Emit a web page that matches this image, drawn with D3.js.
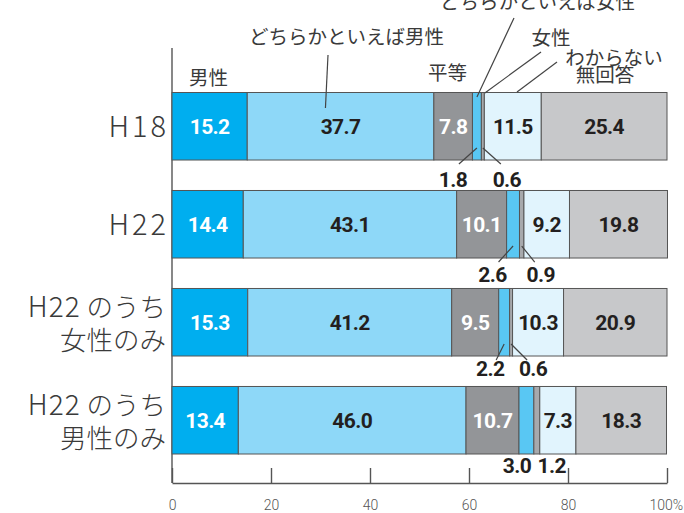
<!DOCTYPE html>
<html>
<head>
<meta charset="utf-8">
<script src="https://cdn.jsdelivr.net/npm/d3@7"></script>
<style>
  html, body { margin: 0; padding: 0; background: #fff; }
  svg { display: block; }
</style>
</head>
<body>
<svg id="chart" width="684" height="513"></svg>
<script>
// ---- data ----
const categories = ["H18", "H22", "H22女性", "H22男性"];
const categoryLines = [["H18"], ["H22"], ["H22 のうち", "女性のみ"], ["H22 のうち", "男性のみ"]];
const seriesNames = ["男性", "どちらかといえば男性", "平等", "どちらかといえば女性", "女性", "わからない", "無回答"];
const male         = [15.2, 14.4, 15.3, 13.4];
const ratherMale   = [37.7, 43.1, 41.2, 46.0];
const equal        = [7.8, 10.1, 9.5, 10.7];
const ratherFemale = [1.8, 2.6, 2.2, 3.0];
const female       = [0.6, 0.9, 0.6, 1.2];
const unknown      = [11.5, 9.2, 10.3, 7.3];
const noAnswer     = [25.4, 19.8, 20.9, 18.3];
const tickValues = [0, 20, 40, 60, 80, 100];
const tickLabels = ["0", "20", "40", "60", "80", "100%"];

// ---- styles ----
const colors = ["#00aeef", "#8ed8f8", "#939598", "#59c7f3", "#a7a9ac", "#e1f4fd", "#c7c8ca"];
const whiteText = [true, false, true, false, false, false, false];
const cjk = "'Noto Sans CJK JP', 'Noto Sans', sans-serif";
const numFont = "Roboto, 'Liberation Sans', sans-serif";

const allSeries = [male, ratherMale, equal, ratherFemale, female, unknown, noAnswer];
const table = categories.map((c, i) => {
  const row = { cat: c };
  seriesNames.forEach((s, j) => row[s] = allSeries[j][i]);
  return row;
});
const stacked = d3.stack().keys(seriesNames)(table);

const svg = d3.select("#chart");
const x = d3.scaleLinear().domain([0, 100]).range([172, 667]);
const y = d3.scaleBand().domain(categories).range([92.5, 454]).paddingInner(0.311).paddingOuter(0);
const bw = y.bandwidth();

// axis lines
const axisY = 483;
svg.append("line").attr("x1", x(0)).attr("x2", x(0)).attr("y1", 48).attr("y2", axisY)
  .attr("stroke", "#555").attr("stroke-width", 1.4);
const xAxis = d3.axisBottom(x).tickValues(tickValues).tickSize(0).tickFormat((d, i) => tickLabels[i]);
const ax = svg.append("g").attr("transform", `translate(0,${axisY})`).call(xAxis);
ax.select(".domain").attr("stroke", "#555").attr("stroke-width", 1.4);
ax.selectAll(".tick line").remove();
ax.selectAll(".tick").append("line").attr("y1", 0).attr("y2", -15).attr("stroke", "#555").attr("stroke-width", 1.4);
ax.selectAll(".tick text").attr("y", 27).attr("dy", 0)
  .attr("font-family", numFont).attr("font-weight", 300).attr("font-size", 14).attr("fill", "#555")
  .attr("text-anchor", (d) => d === 100 ? "start" : "middle")
  .attr("x", (d) => d === 100 ? -18 : 0);

// bars
const groups = svg.append("g").selectAll("g").data(stacked).join("g")
  .attr("fill", (d, i) => colors[i]);
groups.selectAll("rect").data(d => d).join("rect")
  .attr("x", d => x(d[0]))
  .attr("width", d => x(d[1]) - x(d[0]))
  .attr("y", d => y(d.data.cat))
  .attr("height", bw)
  .attr("stroke", "#555").attr("stroke-width", 1);

// inside labels
const insideSeries = [0, 1, 2, 5, 6];
insideSeries.forEach(si => {
  svg.append("g").selectAll("text").data(stacked[si]).join("text")
    .attr("x", d => x((d[0] + d[1]) / 2))
    .attr("y", d => y(d.data.cat) + bw / 2 + 7.5)
    .attr("text-anchor", "middle")
    .attr("font-family", numFont).attr("font-weight", 700).attr("font-size", 21)
    .attr("letter-spacing", -0.6)
    .attr("fill", whiteText[si] ? "#fff" : "#231f20")
    .text(d => d.data[seriesNames[si]].toFixed(1));
});

// outside small labels (どちらかといえば女性 / 女性)
const smallOffsets = [[-24, 24], [-20.5, 19], [-14, 22], [-9.5, 15]];
const smallBaseline = [27, 24, 20, 19];
const smallLeaders = [true, true, true, false];
[3, 4].forEach((si, k) => {
  stacked[si].forEach((d, i) => {
    const cx = x((d[0] + d[1]) / 2);
    const bottom = y(d.data.cat) + bw;
    const lx = cx + smallOffsets[i][k];
    svg.append("text")
      .attr("x", lx).attr("y", bottom + smallBaseline[i])
      .attr("text-anchor", "middle")
      .attr("font-family", numFont).attr("font-weight", 700).attr("font-size", 21)
      .attr("letter-spacing", -0.6)
      .attr("fill", "#231f20")
      .text(d.data[seriesNames[si]].toFixed(1));
    if (smallLeaders[i]) {
      const sign = k === 0 ? 1 : -1;
      svg.append("line")
        .attr("x1", cx).attr("y1", bottom - 12)
        .attr("x2", lx + sign * 6).attr("y2", bottom + 4)
        .attr("stroke", "#444").attr("stroke-width", 1.2);
    }
  });
});

// category labels
categoryLines.forEach((lines, i) => {
  const cy = y(categories[i]) + bw / 2;
  if (lines.length === 1) {
    svg.append("text")
      .attr("text-anchor", "end")
      .attr("font-family", cjk).attr("font-weight", 300).attr("font-size", 29)
      .attr("letter-spacing", 3)
      .attr("fill", "#3a3a3a")
      .attr("x", 169).attr("y", cy + 10.5).text(lines[0]);
  } else {
    lines.forEach((ln, j) => {
      const t = svg.append("text")
        .attr("text-anchor", "end")
        .attr("font-family", cjk).attr("font-weight", 300).attr("font-size", 26.5)
        .attr("fill", "#3a3a3a")
        .attr("x", 166).attr("y", cy + (j === 0 ? -5 : 28));
      const m = ln.match(/^([A-Za-z0-9]+)(.*)$/);
      if (m) {
        t.append("tspan").attr("font-size", 28).attr("letter-spacing", 1).text(m[1]);
        t.append("tspan").text(m[2]);
      } else {
        t.text(ln);
      }
    });
  }
});

// legend labels with leader lines (anchored to first bar)
const legend = [
  { name: seriesNames[0], tx: 208.5, ty: 85 },
  { name: seriesNames[1], tx: 346.5, ty: 44, line: [[328, 55], [31, 108]] },
  { name: seriesNames[2], tx: 447.5, ty: 80 },
  { name: seriesNames[3], tx: 537.5, ty: 9, line: [[514, 18], [61.6, 97]] },
  { name: seriesNames[4], tx: 551, ty: 45, line: [[541, 52], [63.2, 93]] },
  { name: seriesNames[5], tx: 614, ty: 64.5, line: [[557, 62], [69.7, 92]] },
  { name: seriesNames[6], tx: 605, ty: 82 }
];
legend.forEach(l => {
  svg.append("text")
    .attr("x", l.tx).attr("y", l.ty)
    .attr("text-anchor", "middle")
    .attr("font-family", cjk).attr("font-weight", 400).attr("font-size", 19.5)
    .attr("fill", "#3a3a3a")
    .text(l.name);
  if (l.line) {
    svg.append("line")
      .attr("x1", l.line[0][0]).attr("y1", l.line[0][1])
      .attr("x2", x(l.line[1][0])).attr("y2", l.line[1][1])
      .attr("stroke", "#444").attr("stroke-width", 1.2);
  }
});
</script>
</body>
</html>
